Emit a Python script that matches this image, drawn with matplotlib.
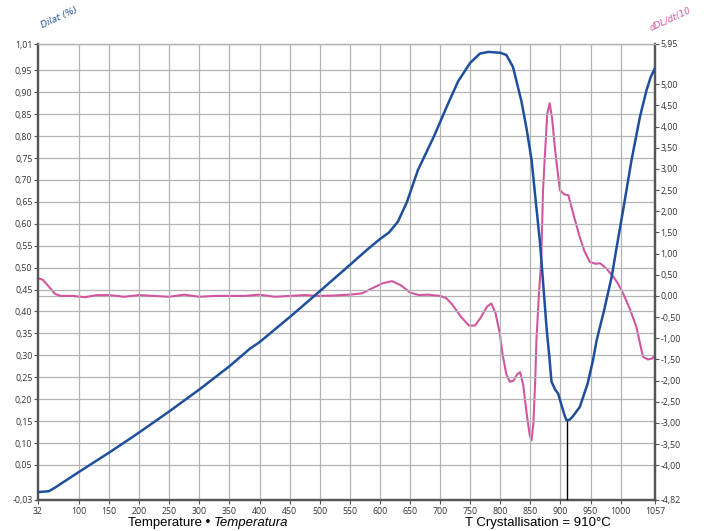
"""Dilatometer curve with its derivative on a twin axis."""

import matplotlib

matplotlib.use("Agg")
import matplotlib.pyplot as plt
import numpy as np

# Dilatation (%), left axis
dil_temp = [32, 50, 60, 100, 150, 185, 200, 250, 300, 350, 384, 400, 450, 489,
            500, 550, 578, 600, 615, 630, 645, 663, 690, 711, 730, 750, 766,
            780, 800, 810, 821, 835, 844, 852, 859, 866, 872, 877, 882, 885,
            891, 896, 902, 907, 910, 915, 920, 932, 945, 954, 960, 972, 985,
            995, 1004, 1018, 1032, 1043, 1050, 1057]
dil_val = [-0.012, -0.010, -0.002, 0.034, 0.078, 0.110, 0.124, 0.172, 0.222,
           0.275, 0.315, 0.330, 0.387, 0.433, 0.446, 0.506, 0.540, 0.565,
           0.580, 0.605, 0.650, 0.722, 0.800, 0.867, 0.925, 0.967, 0.988,
           0.992, 0.990, 0.985, 0.958, 0.880, 0.814, 0.745, 0.650, 0.556,
           0.450, 0.360, 0.289, 0.240, 0.222, 0.213, 0.185, 0.162, 0.152,
           0.153, 0.160, 0.182, 0.235, 0.289, 0.334, 0.400, 0.479, 0.560,
           0.631, 0.745, 0.844, 0.905, 0.935, 0.955]

# Derivative, right axis
der_temp = [32, 40, 50, 60, 70, 90, 110, 130, 150, 175, 200, 225, 250, 275,
            300, 325, 350, 375, 400, 425, 450, 475, 500, 525, 550, 570, 590,
            605, 620, 635, 650, 665, 680, 700, 710, 720, 735, 748, 758, 768,
            778, 785, 792, 799, 804, 810, 816, 822, 828, 833, 838, 844, 849,
            852, 855, 858, 860, 864, 868, 871, 874, 878, 882, 886, 890, 893,
            899, 906, 913, 922, 932, 940, 949, 958, 966, 976, 988, 996, 1004,
            1015, 1026, 1037, 1045, 1052, 1057]
der_val = [0.42, 0.38, 0.22, 0.05, 0.00, 0.00, -0.03, 0.02, 0.02, -0.02, 0.02,
           0.00, -0.02, 0.03, -0.02, 0.00, 0.00, 0.00, 0.03, -0.02, 0.00, 0.02,
           0.00, 0.01, 0.03, 0.06, 0.20, 0.30, 0.35, 0.25, 0.08, 0.02, 0.03,
           0.00, -0.05, -0.20, -0.50, -0.70, -0.70, -0.50, -0.25, -0.18, -0.40,
           -0.88, -1.40, -1.85, -2.03, -2.00, -1.85, -1.80, -2.10, -2.80, -3.30,
           -3.41, -3.00, -2.00, -1.05, 0.00, 0.84, 2.50, 3.30, 4.30, 4.55, 4.20,
           3.60, 3.20, 2.50, 2.40, 2.38, 1.90, 1.39, 1.05, 0.80, 0.76, 0.77,
           0.65, 0.45, 0.28, 0.06, -0.30, -0.73, -1.44, -1.50, -1.48, -1.40]

left_ticks = [-0.03, 0.05, 0.10, 0.15, 0.20, 0.25, 0.30, 0.35, 0.40, 0.45,
              0.50, 0.55, 0.60, 0.65, 0.70, 0.75, 0.80, 0.85, 0.90, 0.95, 1.01]
right_ticks = [-4.82, -4.00, -3.50, -3.00, -2.50, -2.00, -1.50, -1.00, -0.50,
               0.00, 0.50, 1.00, 1.50, 2.00, 2.50, 3.00, 3.50, 4.00, 4.50,
               5.00, 5.95]
x_ticks = [32, 100, 150, 200, 250, 300, 350, 400, 450, 500, 550, 600, 650,
           700, 750, 800, 850, 900, 950, 1000, 1057]
t_cryst = 910

BLUE = "#1f4f9c"
PINK = "#d2569f"
GRID = "#b4b4b4"
AXIS = "#555555"


def fmt(v: float) -> str:
    return f"{v:.2f}".replace(".", ",")


fig = plt.figure(figsize=(7.08, 5.31), dpi=100)
ax = fig.add_axes([38 / 708, 31 / 531, 617 / 708, 456 / 531])
ax2 = ax.twinx()

ax.set_xlim(32, 1057)
ax.set_ylim(-0.03, 1.01)
ax2.set_ylim(-4.82, 5.95)

# grid: vertical every 50 degrees, horizontal on left ticks plus derivative zero
for t in x_ticks[1:-1]:
    ax.axvline(t, color=GRID, lw=0.9, zorder=0)
for v in left_ticks[1:]:
    ax.axhline(v, color=GRID, lw=0.9, zorder=0)
ax2.axhline(0, color=GRID, lw=0.9, zorder=0)

# marker from the axis up to the curve at the crystallisation temperature
dil_at_cryst = float(np.interp(t_cryst, dil_temp, dil_val))
ax.vlines(t_cryst, -0.03, dil_at_cryst, color="black", lw=1.0, zorder=3)

ax2.plot(der_temp, der_val, color=PINK, lw=1.5, zorder=2)
ax.plot(dil_temp, dil_val, color=BLUE, lw=1.8, zorder=4)
ax.set_zorder(ax2.get_zorder() + 1)
ax.patch.set_visible(False)

tick_font = dict(family="Open Sans", size=6.3, color="#333333")
ax.set_xticks(x_ticks)
ax.set_xticklabels([str(t) for t in x_ticks], **tick_font)
ax.set_yticks(left_ticks)
ax.set_yticklabels([fmt(v) for v in left_ticks], **tick_font)
ax2.set_yticks(right_ticks)
ax2.set_yticklabels([fmt(v) for v in right_ticks], **tick_font)
for a in (ax, ax2):
    a.tick_params(length=3, width=0.8, color=AXIS, pad=1)
ax.tick_params(axis="x", pad=2)

for a in (ax, ax2):
    a.spines["top"].set_color(GRID)
    a.spines["top"].set_linewidth(0.9)
    for s in ("left", "right", "bottom"):
        a.spines[s].set_color(AXIS)
        a.spines[s].set_linewidth(1.6)

fig.text(40 / 708, 1 - 30 / 531, "Dilat (%)", color=BLUE, rotation=25,
         fontsize=6.5, style="italic", ha="left", va="bottom")
fig.text(648 / 708, 1 - 33 / 531, "dDL/dt(10", color=PINK, rotation=25,
         fontsize=6.5, style="italic", ha="left", va="bottom")

t1 = fig.text(128 / 708, 1 - 523 / 531, "Temperature \u2022 ",
              family="Liberation Sans", fontsize=9.5, ha="left", va="center")
ax.annotate("Temperatura", xy=(1, 0), xycoords=t1, va="bottom",
            family="Liberation Sans", fontsize=9.5, style="italic",
            annotation_clip=False)
fig.text(538 / 708, 1 - 523 / 531, "T Crystallisation = 910\u00b0C",
         family="Liberation Sans", fontsize=9.5, ha="center", va="center")

fig.savefig("out.png", dpi=100)
plt.close(fig)
